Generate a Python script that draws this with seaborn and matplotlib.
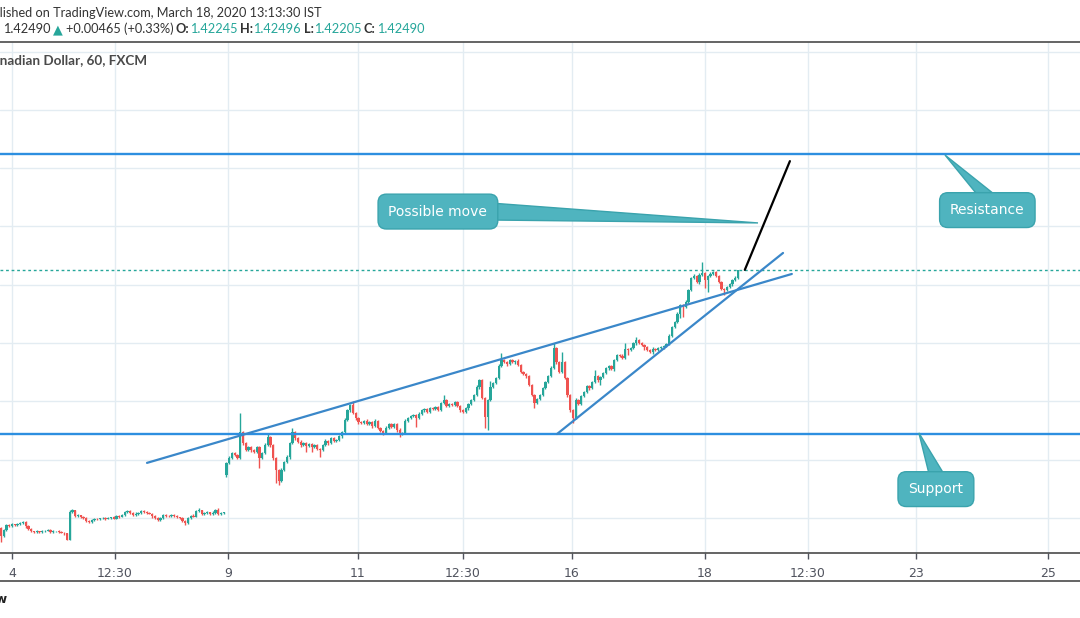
import numpy as np
import pandas as pd
import seaborn as sns
import matplotlib.pyplot as plt
from matplotlib.patches import Polygon
from matplotlib.lines import Line2D

sns.set_theme(style="white")
plt.rcParams["font.family"] = ["DejaVu Sans"]

# USD/CAD 60 min closes, split by session
first_open = 1.3366
closes_mar4_6 = [1.3338, 1.3359, 1.3376, 1.3372, 1.3379, 1.3376, 1.3379, 1.3383, 1.3386, 1.3372,
                 1.3362, 1.3355, 1.3352, 1.3355, 1.3352, 1.3355, 1.3357, 1.3359, 1.3352, 1.3355,
                 1.3355, 1.3352, 1.3349, 1.3347, 1.3325, 1.3420, 1.3427, 1.3407, 1.3409, 1.3403,
                 1.3400, 1.3390, 1.3386, 1.3393, 1.3397, 1.3395, 1.3399, 1.3400, 1.3397, 1.3400,
                 1.3402, 1.3398, 1.3407, 1.3405, 1.3410, 1.3420, 1.3424, 1.3417, 1.3410, 1.3412,
                 1.3417, 1.3424, 1.3422, 1.3417, 1.3414, 1.3407, 1.3400, 1.3393, 1.3400, 1.3410,
                 1.3408, 1.3407, 1.3410, 1.3407, 1.3403, 1.3400, 1.3390, 1.3383, 1.3400, 1.3407,
                 1.3405, 1.3424, 1.3427, 1.3414, 1.3416, 1.3420, 1.3414, 1.3417, 1.3427, 1.3414,
                 1.3416, 1.3420]
up_wick_mar4_6 = [3, 4, 2, 3, 5, 2, 3, 2, 4, 2, 3, 2, 2, 3, 2, 3, 2, 4, 2, 3,
                  2, 3, 2, 3, 0, 7, 3, 2, 4, 2, 3, 2, 3, 4, 2, 3, 2, 3, 2, 3,
                  2, 4, 2, 3, 5, 4, 3, 2, 3, 9, 3, 4, 3, 2, 3, 2, 4, 3, 2, 5,
                  3, 2, 4, 3, 3, 2, 3, 2, 4, 3, 5, 3, 6, 2, 3, 4, 2, 6, 3, 7, 3, 2]
lo_wick_mar4_6 = [20, 3, 4, 2, 3, 4, 2, 3, 2, 5, 3, 4, 2, 3, 2, 4, 3, 2, 3, 2,
                  4, 3, 2, 5, 0, 0, 3, 4, 2, 3, 4, 5, 3, 2, 4, 3, 2, 3, 4, 2,
                  3, 2, 3, 4, 2, 3, 2, 4, 3, 2, 3, 2, 4, 3, 2, 6, 5, 3, 4, 2,
                  3, 2, 3, 4, 2, 5, 3, 7, 3, 4, 2, 3, 2, 5, 3, 2, 4, 3, 2, 4, 3, 2]

mar9_open = 1.3547
closes_mar9_11 = [1.3589, 1.3606, 1.3623, 1.3616, 1.3606, 1.3695, 1.3657, 1.3633, 1.3643, 1.3633,
                  1.3626, 1.3643, 1.3606, 1.3623, 1.3650, 1.3678, 1.3650, 1.3606, 1.3565, 1.3527,
                  1.3565, 1.3592, 1.3609, 1.3657, 1.3695, 1.3674, 1.3661, 1.3650, 1.3657, 1.3647,
                  1.3654, 1.3643, 1.3650, 1.3637, 1.3633, 1.3650, 1.3664, 1.3657, 1.3674, 1.3664,
                  1.3667, 1.3681, 1.3695, 1.3736, 1.3770, 1.3788, 1.3760, 1.3743, 1.3729]
up_wick_mar9_11 = [3, 5, 4, 3, 4, 65, 5, 3, 4, 3, 3, 5, 3, 4, 6, 14, 3, 3, 4, 3,
                   5, 4, 6, 5, 14, 4, 3, 5, 3, 4, 3, 4, 3, 5, 3, 4, 6, 3, 5, 4,
                   3, 5, 4, 6, 5, 4, 14, 4, 3]
lo_wick_mar9_11 = [7, 4, 3, 5, 4, 3, 6, 4, 3, 5, 4, 3, 34, 4, 3, 4, 5, 6, 45, 14,
                   5, 4, 3, 5, 3, 6, 4, 5, 4, 20, 4, 15, 3, 5, 24, 4, 3, 5, 4, 3,
                   4, 3, 5, 4, 3, 5, 3, 6, 5]

closes_mar11_12 = [1.3726, 1.3733, 1.3722, 1.3729, 1.3716, 1.3733, 1.3709, 1.3698, 1.3691, 1.3709,
                   1.3722, 1.3712, 1.3722, 1.3702, 1.3688, 1.3691, 1.3733, 1.3743, 1.3750, 1.3753,
                   1.3743, 1.3757, 1.3770, 1.3774, 1.3764, 1.3777, 1.3774, 1.3781, 1.3770, 1.3794,
                   1.3805, 1.3784, 1.3791, 1.3788, 1.3798, 1.3784, 1.3770]
up_wick_mar11_12 = [4, 3, 5, 3, 4, 6, 3, 4, 3, 5, 4, 3, 4, 3, 5, 3, 6, 4, 3, 5,
                    4, 6, 5, 4, 3, 5, 4, 3, 4, 5, 17, 4, 3, 5, 4, 3, 4]
lo_wick_mar11_12 = [3, 5, 4, 3, 6, 4, 5, 3, 8, 4, 3, 5, 4, 6, 10, 4, 3, 5, 4, 3,
                    30, 4, 3, 5, 4, 3, 4, 5, 3, 4, 3, 5, 4, 3, 5, 4, 6]

closes_mar12_16 = [1.3764, 1.3777, 1.3791, 1.3805, 1.3822, 1.3849, 1.3873, 1.3812, 1.3746, 1.3805,
                   1.3849, 1.3863, 1.3880, 1.3921, 1.3942, 1.3935, 1.3928, 1.3942, 1.3935, 1.3938,
                   1.3925, 1.3901, 1.3894, 1.3887, 1.3856, 1.3822, 1.3794, 1.3808, 1.3822, 1.3846,
                   1.3866, 1.3887, 1.3914, 1.3983, 1.3935, 1.3901, 1.3935, 1.3880, 1.3822, 1.3770]
up_wick_mar12_16 = [3, 4, 5, 4, 3, 6, 4, 5, 3, 4, 20, 5, 4, 6, 24, 4, 3, 5, 4, 3,
                    6, 4, 3, 5, 4, 3, 4, 5, 3, 4, 5, 3, 6, 17, 4, 3, 34, 5, 4, 3]
lo_wick_mar12_16 = [4, 3, 5, 3, 4, 3, 5, 4, 38, 45, 3, 4, 3, 5, 4, 3, 5, 4, 3, 6,
                    4, 5, 3, 6, 4, 5, 17, 4, 3, 5, 4, 3, 5, 4, 6, 3, 5, 4, 6, 8]

closes_mar16_17 = [1.3743, 1.3805, 1.3791, 1.3818, 1.3832, 1.3853, 1.3846, 1.3866, 1.3887, 1.3873,
                   1.3884, 1.3897, 1.3914, 1.3921, 1.3911, 1.3942, 1.3959, 1.3956, 1.3949, 1.3980,
                   1.3976, 1.3983, 1.4000, 1.4011, 1.4000, 1.3993, 1.3986, 1.3976, 1.3969, 1.3980,
                   1.3976, 1.3983, 1.3986, 1.3990, 1.3997, 1.4024]
up_wick_mar16_17 = [4, 5, 3, 4, 5, 3, 4, 5, 20, 4, 3, 5, 4, 3, 5, 4, 3, 4, 5, 20,
                    4, 3, 5, 10, 4, 3, 5, 4, 3, 5, 4, 3, 5, 4, 3, 6]
lo_wick_mar16_17 = [17, 4, 3, 5, 4, 3, 6, 4, 3, 5, 17, 4, 3, 5, 4, 6, 3, 5, 4, 3,
                    17, 4, 3, 5, 4, 3, 10, 4, 3, 5, 4, 3, 4, 5, 3, 4]

closes_mar17_18 = [1.4055, 1.4072, 1.4100, 1.4131, 1.4124, 1.4141, 1.4182, 1.4223, 1.4230, 1.4209,
                   1.4234, 1.4240, 1.4216, 1.4230, 1.4237, 1.4244, 1.4230, 1.4209, 1.4185, 1.4182,
                   1.4192, 1.4202, 1.4216, 1.42245, 1.42490]
up_wick_mar17_18 = [4, 3, 5, 4, 3, 5, 4, 3, 6, 4, 5, 38, 4, 3, 5, 4, 3, 4, 3, 5,
                    4, 3, 4, 5, 1]
lo_wick_mar17_18 = [3, 5, 4, 14, 34, 4, 3, 5, 4, 3, 5, 4, 27, 41, 4, 3, 5, 4, 3, 17,
                    4, 3, 5, 4, 4]

# drawings (bar index, price)
resistance = 1.4649
support = 1.3688
last_close = 1.42490
upper_trend_x = [53.1, 287.6]
upper_trend_y = [1.3589, 1.4237]
lower_trend_x = [202.2, 284.4]
lower_trend_y = [1.3688, 1.4309]
move_x = [270.5, 286.9]
move_y = [1.4251, 1.4624]

tick_pos = [4.0, 41.5, 82.5, 129.8, 168.0, 207.6, 256.0, 293.5, 332.7, 380.7]
tick_labels = ["4", "12:30", "9", "11", "12:30", "16", "18", "12:30", "23", "25"]
grid_prices = [1.34, 1.36, 1.38, 1.40, 1.42, 1.44, 1.46, 1.48, 1.50]

segments = [
    (closes_mar4_6, up_wick_mar4_6, lo_wick_mar4_6),
    (closes_mar9_11, up_wick_mar9_11, lo_wick_mar9_11),
    (closes_mar11_12, up_wick_mar11_12, lo_wick_mar11_12),
    (closes_mar12_16, up_wick_mar12_16, lo_wick_mar12_16),
    (closes_mar16_17, up_wick_mar16_17, lo_wick_mar16_17),
    (closes_mar17_18, up_wick_mar17_18, lo_wick_mar17_18),
]
for c, u, l in segments:
    assert len(c) == len(u) == len(l), (len(c), len(u), len(l))

close = np.concatenate([s[0] for s in segments])
upw = np.concatenate([s[1] for s in segments]) * 0.0001
low_w = np.concatenate([s[2] for s in segments]) * 0.0001
opn = np.r_[first_open, close[:-1]]
opn[len(closes_mar4_6)] = mar9_open
df = pd.DataFrame({"bar": np.arange(len(close)), "open": opn, "close": close})
df["high"] = df[["open", "close"]].max(axis=1) + upw
df["low"] = df[["open", "close"]].min(axis=1) - low_w
df["up"] = df["close"] >= df["open"]

UP, DOWN = "#26a69a", "#ef5350"
colors = np.where(df["up"], UP, DOWN)

fig = plt.figure(figsize=(10.8, 6.18), dpi=100)
ax = fig.add_axes([0, 65 / 618, 1, 511 / 618])
ax.set_xlim(-0.36, 392.4)
ax.set_ylim(1.32799, 1.50326)

ax.set_axisbelow(True)
ax.set_yticks(grid_prices)
ax.set_xticks(tick_pos)
ax.set_xticklabels(tick_labels)
ax.grid(True, color="#e3ecf2", lw=1)
ax.tick_params(axis="y", left=False, labelleft=False)
ax.tick_params(axis="x", bottom=True, length=4, width=1, color="#50535e",
               labelsize=9, labelcolor="#50535e", pad=6)
for side in ["left", "right"]:
    ax.spines[side].set_visible(False)
for side in ["top", "bottom"]:
    ax.spines[side].set_color("#4a4a4a")
    ax.spines[side].set_linewidth(1.2)

# candles
ax.vlines(df["bar"], df["low"], df["high"], colors=colors, lw=1.0, zorder=2)
body = (df["close"] - df["open"]).abs().clip(lower=0.00014)
ax.bar(df["bar"], body, bottom=df[["open", "close"]].min(axis=1), width=0.85,
       color=colors, linewidth=0, zorder=3)

# horizontal levels and trend lines
for lvl in [resistance, support]:
    ax.axhline(lvl, color="#2d8fe0", lw=1.7, zorder=4)
ax.axhline(last_close, color=UP, lw=1, ls=(0, (2, 2)), zorder=1)
sns.lineplot(x=upper_trend_x, y=upper_trend_y, ax=ax, color="#3a87c9", lw=1.6, zorder=4)
sns.lineplot(x=lower_trend_x, y=lower_trend_y, ax=ax, color="#3a87c9", lw=1.6, zorder=4)
sns.lineplot(x=move_x, y=move_y, ax=ax, color="black", lw=1.6, zorder=4)

FILL, EDGE = "#4fb4bf", "#3aa3ad"


def callout(text, center, tip, base):
    ax.add_patch(Polygon([base[0], tip, base[1]], closed=True, fc=FILL, ec=EDGE,
                         lw=1, zorder=5))
    ax.text(center[0], center[1], text, ha="center", va="center", color="white",
            fontsize=10, zorder=6,
            bbox=dict(boxstyle="round,pad=0.75,rounding_size=0.6", fc=FILL, ec=EDGE, lw=1))


callout("Possible move", (158.9, 1.4451), (275.3, 1.4412), [(178.5, 1.4480), (178.5, 1.4422)])
callout("Resistance", (358.7, 1.4456), (343.3, 1.4645), [(355.3, 1.4506), (361.8, 1.4506)])
callout("Support", (340.0, 1.3499), (333.8, 1.3692), [(337.5, 1.3551), (342.9, 1.3551)])


def fpx(x, y):
    return x / 1080, 1 - y / 618


HFONT = ["Lato", "DejaVu Sans"]
# header texts
fig.text(*fpx(322, 13), "Published on TradingView.com, March 18, 2020 13:13:30 IST",
         ha="right", va="center", fontsize=9.2, color="#333333", family=HFONT)
hdr = [(3, "1.42490", "#333333", "normal"), (53, "\u25B2", UP, "normal"),
       (66, "+0.00465 (+0.33%)", "#333333", "normal"),
       (176, "O:", "#333333", "bold"), (190, "1.42245", UP, "normal"),
       (240, "H:", "#333333", "bold"), (253, "1.42496", UP, "normal"),
       (304, "L:", "#333333", "bold"), (314, "1.42205", UP, "normal"),
       (364, "C:", "#333333", "bold"), (377, "1.42490", UP, "normal")]
for x, s, col, w in hdr:
    fig.text(*fpx(x, 29), s, ha="left", va="center", fontsize=9.2, color=col,
             weight=w, family=HFONT)
fig.text(*fpx(147, 60), "U.S. Dollar / Canadian Dollar, 60, FXCM", ha="right", va="center",
         fontsize=9.7, color="#4a4a4a", weight="bold", family=HFONT)

fig.add_artist(Line2D([0, 1], [1 - 581 / 618] * 2, color="#4a4a4a", lw=1.2))
fig.text(*fpx(8, 600), "TradingView", ha="right", va="center", fontsize=9,
         color="#222222", weight="bold")

fig.savefig("out.png", dpi=100)
